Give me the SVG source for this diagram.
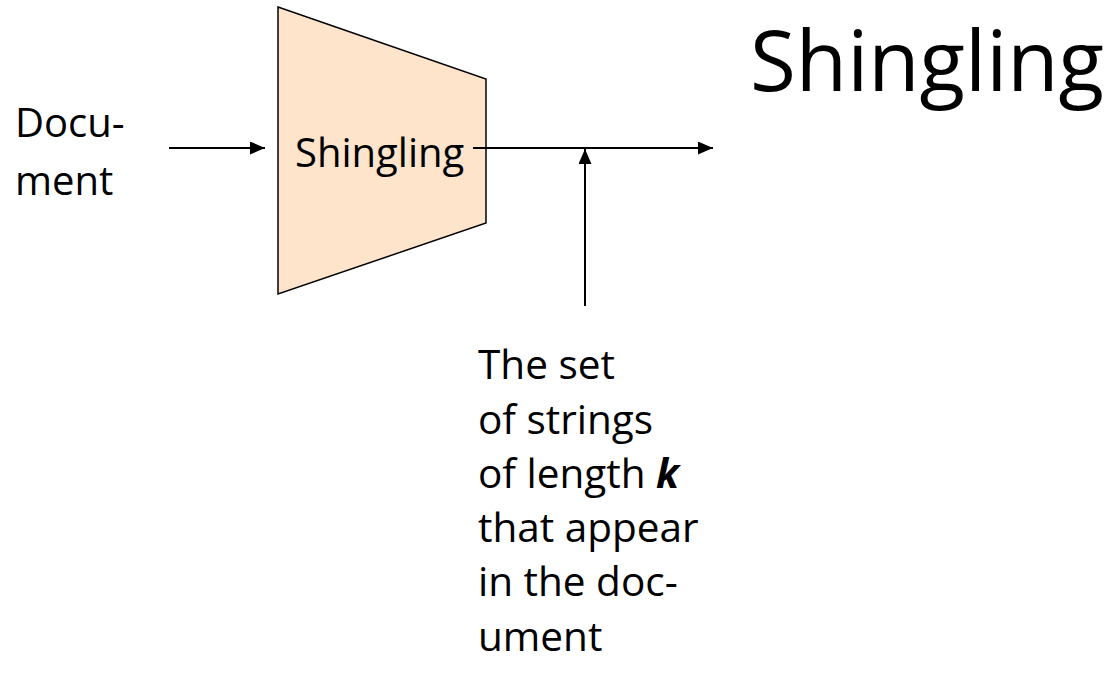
<svg xmlns="http://www.w3.org/2000/svg" width="1118" height="673" viewBox="0 0 1118 673">
  <defs>
    <marker id="arrow" viewBox="0 0 15 13" refX="15" refY="6.5" markerWidth="15" markerHeight="13" markerUnits="userSpaceOnUse" orient="auto">
      <path d="M0,0 L15,6.5 L0,13 Z" fill="#000"/>
    </marker>
    <style>
      .lbl { font-family: "Open Sans", "Noto Sans", sans-serif; fill: #000; }
      .conn { stroke: #000; stroke-width: 2; fill: none; }
    </style>
  </defs>
  <rect width="1118" height="673" fill="#fff"/>

  <!-- heading -->
  <g id="title">
    <text class="lbl" x="750" y="91" font-size="84" textLength="354" lengthAdjust="spacingAndGlyphs">Shingling</text>
  </g>

  <!-- input label -->
  <g id="document">
    <text class="lbl" x="15" y="137" font-size="40">Docu-</text>
    <text class="lbl" x="15" y="195" font-size="40">ment</text>
  </g>

  <!-- shingling stage -->
  <g id="shingling">
    <polygon points="278,7 486,79 486,223 278,294" fill="#FDE4CB" stroke="#000" stroke-width="1.5"/>
    <text class="lbl" x="295" y="167" font-size="40">Shingling</text>
  </g>

  <!-- output description -->
  <g id="output">
    <text class="lbl" font-size="40.5">
      <tspan x="478" y="379">The set</tspan>
      <tspan x="478" y="434">of strings</tspan>
      <tspan x="478" y="488">of length <tspan font-weight="bold" font-style="italic">k</tspan></tspan>
      <tspan x="478" y="542">that appear</tspan>
      <tspan x="478" y="596">in the doc-</tspan>
      <tspan x="478" y="651">ument</tspan>
    </text>
  </g>

  <!-- connectors -->
  <g id="connectors">
    <line class="conn" x1="169" y1="148" x2="265" y2="148" marker-end="url(#arrow)"/>
    <line class="conn" x1="473" y1="148" x2="713" y2="148" marker-end="url(#arrow)"/>
    <line class="conn" x1="585" y1="306" x2="585" y2="149" marker-end="url(#arrow)"/>
  </g>
</svg>
